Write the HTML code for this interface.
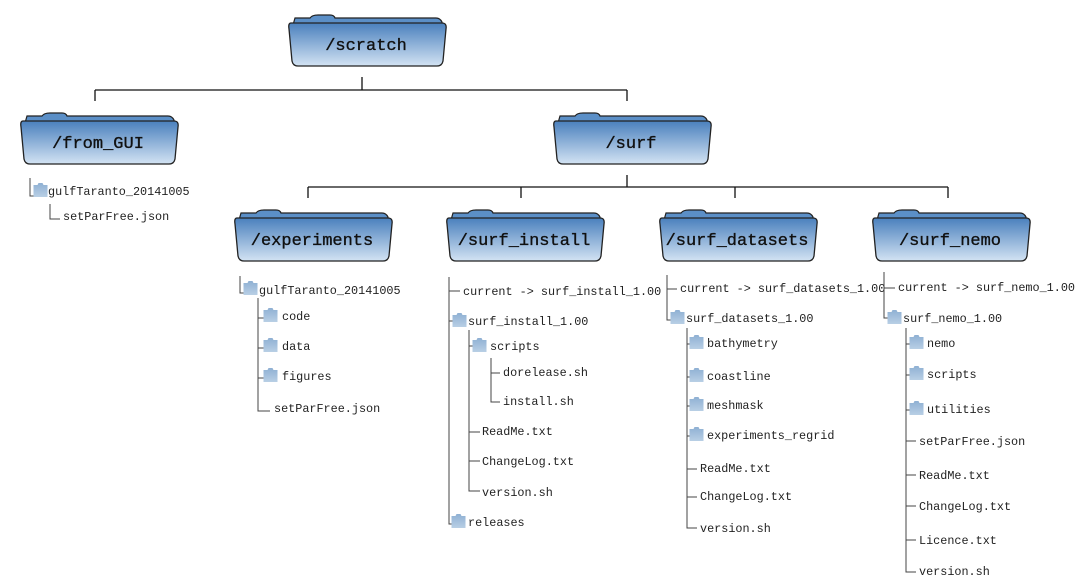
<!DOCTYPE html>
<html><head><meta charset="utf-8"><style>
html,body{margin:0;padding:0;background:#fff;}
svg{display:block;}
.t{font-family:"Liberation Mono",monospace;font-size:11.8px;fill:#222;}
.b{font-family:"Liberation Mono",monospace;font-size:17px;fill:#111;text-anchor:middle;stroke:#111;stroke-width:0.35;}
.l{stroke:#111;stroke-width:1.3;fill:none;}
.g{stroke:#444;stroke-width:1;fill:none;}
</style></head><body>
<svg width="1089" height="588" viewBox="0 0 1089 588" xmlns="http://www.w3.org/2000/svg">
<defs>
<linearGradient id="fg" x1="0" y1="0" x2="0" y2="1">
<stop offset="0" stop-color="#4a80bd"/><stop offset="1" stop-color="#d3e3f3"/></linearGradient>
<linearGradient id="ig" x1="0" y1="0" x2="0" y2="1">
<stop offset="0" stop-color="#8fb0d3"/><stop offset="1" stop-color="#b9cfe5"/></linearGradient>
<g id="F">
<path d="M5,10 L7,3 L22,3 Q24,0 30,0 L42,0 Q46,0 47,3 L148,3 Q152,3 154,7 L154,10 Z" fill="#5b8fc7" stroke="#222" stroke-width="1.2"/>
<path d="M3,8 L154,8 Q159,8 158,14 L155,46 Q154,51 149,51 L10,51 Q5,51 4,46 L1,14 Q0,8 3,8 Z" fill="url(#fg)" stroke="#222" stroke-width="1.3"/>
</g>
<g id="I">
<path d="M0,2 L4,2 L5,0 L9,0 L10,2 L14,2 L14,14 L0,14 Z" fill="url(#ig)" transform="translate(-0.5,-1)"/>
</g>
</defs>

<use href="#F" x="288" y="15"/><text class="b" x="366" y="50">/scratch</text>
<use href="#F" x="20" y="113"/><text class="b" x="98" y="148">/from_GUI</text>
<use href="#F" x="553" y="113"/><text class="b" x="631" y="148">/surf</text>
<use href="#F" x="234" y="210"/><text class="b" x="312" y="245">/experiments</text>
<use href="#F" x="446" y="210"/><text class="b" x="524" y="245">/surf_install</text>
<use href="#F" x="659" y="210"/><text class="b" x="737" y="245">/surf_datasets</text>
<use href="#F" x="872" y="210"/><text class="b" x="950" y="245">/surf_nemo</text>

<path class="l" d="M362,77 V90 M95,90 H627 M95,90 V101 M627,90 V101"/>
<path class="l" d="M627,175 V187 M308,187 H948 M308,187 V198 M521,187 V198 M735,187 V198 M948,187 V198"/>

<path class="g" d="M30,178 V196 H34 M50,204 V219 H60"/>
<use href="#I" x="34" y="184"/>
<text class="t" x="48" y="195">gulfTaranto_20141005</text>
<text class="t" x="63" y="220">setParFree.json</text>

<path class="g" d="M240,276 V293 H244 M258,298 V411 H270 M258,318 H264 M258,348 H264 M258,378 H264"/>
<use href="#I" x="244" y="282"/>
<text class="t" x="259" y="294">gulfTaranto_20141005</text>
<use href="#I" x="264" y="309"/><text class="t" x="282" y="320">code</text>
<use href="#I" x="264" y="339"/><text class="t" x="282" y="350">data</text>
<use href="#I" x="264" y="369"/><text class="t" x="282" y="380">figures</text>
<text class="t" x="274" y="412">setParFree.json</text>

<path class="g" d="M449,277 V524 H453 M449,291 H460 M449,321 H453 M469,330 V491 H480 M469,346 H473 M469,432 H480 M469,461 H480 M491,358 V402 H500 M491,373 H500"/>
<text class="t" x="463" y="295">current -&gt; surf_install_1.00</text>
<use href="#I" x="453" y="314"/><text class="t" x="468" y="325">surf_install_1.00</text>
<use href="#I" x="473" y="339"/><text class="t" x="490" y="350">scripts</text>
<text class="t" x="503" y="376">dorelease.sh</text>
<text class="t" x="503" y="405">install.sh</text>
<text class="t" x="482" y="435">ReadMe.txt</text>
<text class="t" x="482" y="465">ChangeLog.txt</text>
<text class="t" x="482" y="496">version.sh</text>
<use href="#I" x="452" y="515"/><text class="t" x="468" y="526">releases</text>

<path class="g" d="M667,275 V320 H671 M667,289 H677 M687,328 V528 H697 M687,344 H690 M687,377 H690 M687,406 H690 M687,436 H690 M687,469 H697 M687,497 H697"/>
<text class="t" x="680" y="292">current -&gt; surf_datasets_1.00</text>
<use href="#I" x="671" y="311"/><text class="t" x="686" y="322">surf_datasets_1.00</text>
<use href="#I" x="690" y="336"/><text class="t" x="707" y="347">bathymetry</text>
<use href="#I" x="690" y="369"/><text class="t" x="707" y="380">coastline</text>
<use href="#I" x="690" y="398"/><text class="t" x="707" y="409">meshmask</text>
<use href="#I" x="690" y="428"/><text class="t" x="707" y="439">experiments_regrid</text>
<text class="t" x="700" y="472">ReadMe.txt</text>
<text class="t" x="700" y="500">ChangeLog.txt</text>
<text class="t" x="700" y="532">version.sh</text>

<path class="g" d="M884,272 V318 H888 M884,288 H895 M906,328 V572 H916 M906,344 H910 M906,375 H910 M906,410 H910 M906,441 H916 M906,475 H916 M906,506 H916 M906,540 H916"/>
<text class="t" x="898" y="291">current -&gt; surf_nemo_1.00</text>
<use href="#I" x="888" y="311"/><text class="t" x="903" y="322">surf_nemo_1.00</text>
<use href="#I" x="910" y="336"/><text class="t" x="927" y="347">nemo</text>
<use href="#I" x="910" y="367"/><text class="t" x="927" y="378">scripts</text>
<use href="#I" x="910" y="402"/><text class="t" x="927" y="413">utilities</text>
<text class="t" x="919" y="445">setParFree.json</text>
<text class="t" x="919" y="479">ReadMe.txt</text>
<text class="t" x="919" y="510">ChangeLog.txt</text>
<text class="t" x="919" y="544">Licence.txt</text>
<text class="t" x="919" y="575">version.sh</text>
</svg>
</body></html>
